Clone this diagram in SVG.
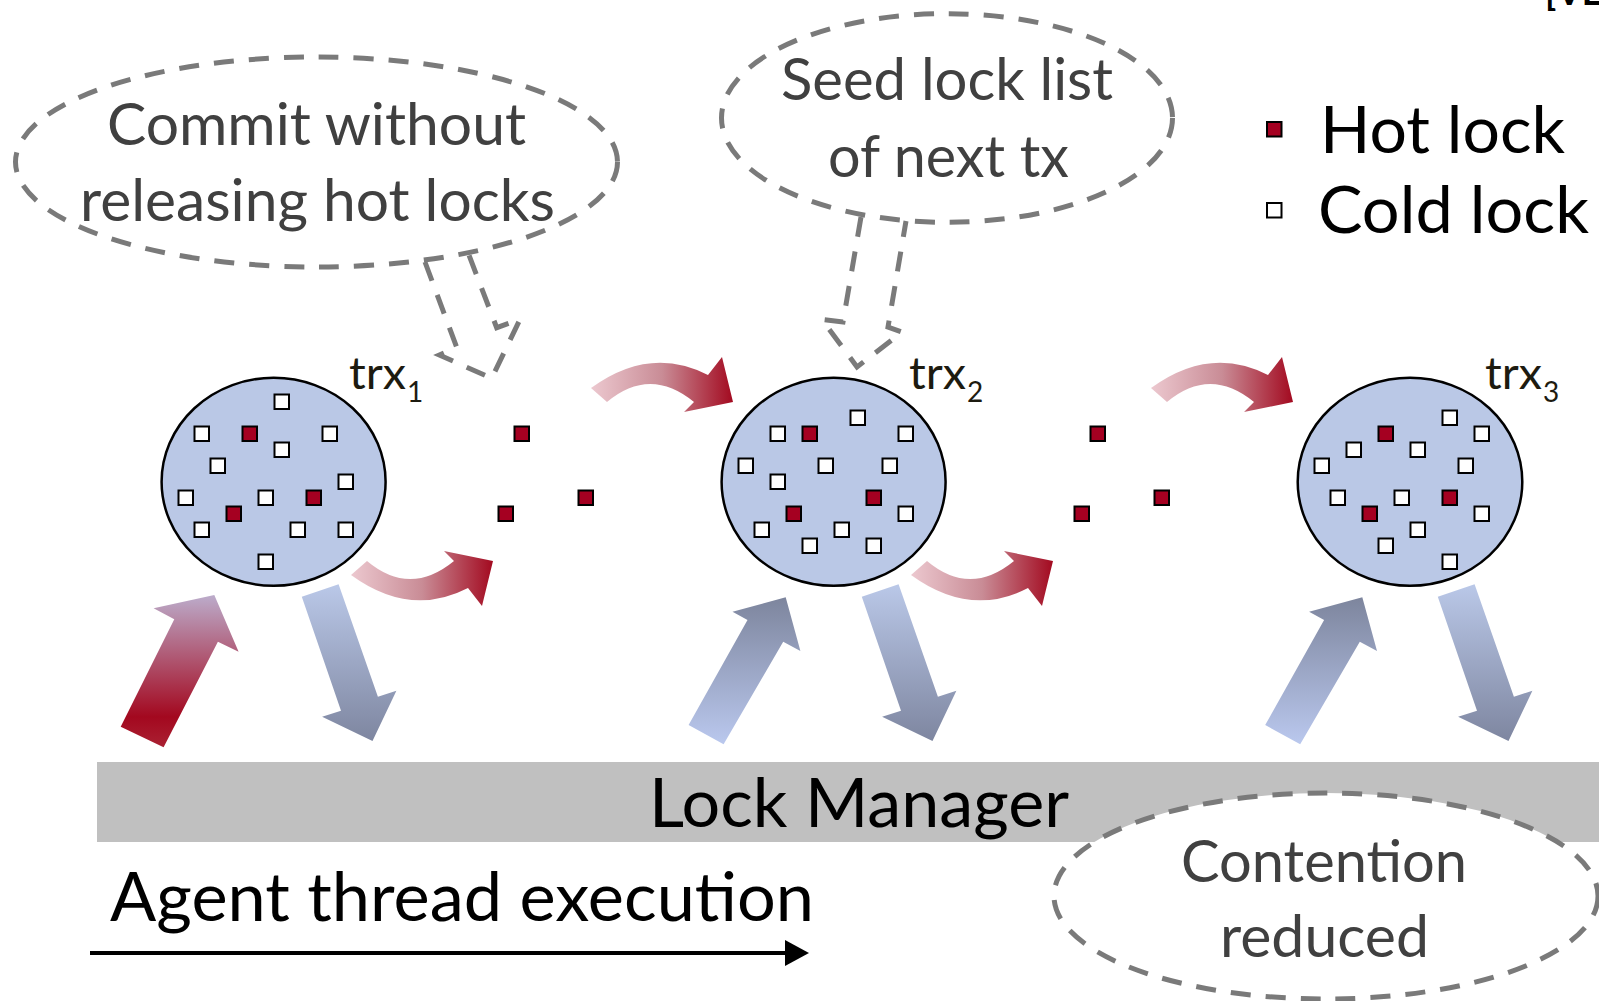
<svg xmlns="http://www.w3.org/2000/svg" width="1599" height="1001" viewBox="0 0 1599 1001">
<style>
  .t { font-family: Lato, "Open Sans", "Liberation Sans", sans-serif; }
  .call { fill: #404040; font-size: 58px; }
  .big { fill: #000; font-size: 68px; }
  .leg { fill: #000; font-size: 66px; }
  .trx { fill: #1d1b10; font-size: 44px; }
  .sub { fill: #1d1b10; font-size: 28px; }
  .dash { fill: none; stroke: #7a7a7a; stroke-width: 5; stroke-dasharray: 20 15; }
  .cell { fill: #bac8e6; stroke: #000; stroke-width: 2.5; }
  .c { fill: #fff; stroke: #000; stroke-width: 2; }
  .h { fill: #a50021; stroke: #000; stroke-width: 2; }
</style>
<defs>
  <linearGradient id="gArc" gradientUnits="userSpaceOnUse" x1="591" y1="0" x2="733" y2="0">
    <stop offset="0" stop-color="#ecc8cf"/>
    <stop offset="0.5" stop-color="#c98c96"/>
    <stop offset="1" stop-color="#a30a20"/>
  </linearGradient>
  <linearGradient id="gRed" x1="0" y1="0" x2="0" y2="1">
    <stop offset="0" stop-color="#bcaccb"/>
    <stop offset="0.8" stop-color="#a3081f"/>
    <stop offset="1" stop-color="#aa2132"/>
  </linearGradient>
  <linearGradient id="gDown" x1="0" y1="0" x2="0" y2="1">
    <stop offset="0" stop-color="#bac8e8"/>
    <stop offset="1" stop-color="#7e86a0"/>
  </linearGradient>
  <linearGradient id="gUp" x1="0" y1="1" x2="0" y2="0">
    <stop offset="0" stop-color="#bac8ee"/>
    <stop offset="1" stop-color="#7d859d"/>
  </linearGradient>
  <path id="arc" d="M591,388 Q650,345 708,375 L722,357 L733,402 L684,412 L694,402 Q650,366 607,402 Z" fill="url(#gArc)"/>
  <polygon id="downArrow" points="301.8,596.7 338.6,584.3 377.9,696.7 396.4,690.7 372.5,741 322.1,716.7 341,710.7" fill="url(#gDown)"/>
  <polygon id="upArrow" points="688.6,725 723.6,744.3 783.2,641.7 800.4,651 785.7,597.3 732.5,611.7 747.5,620" fill="url(#gUp)"/>
  <marker id="head" viewBox="0 0 24 26" refX="2" refY="13" markerWidth="24" markerHeight="26" markerUnits="userSpaceOnUse" orient="auto">
    <path d="M0,0 L24,13 L0,26 Z" fill="#000"/>
  </marker>
</defs>

<rect width="1599" height="1001" fill="#fff"/>

<text class="t" x="1545" y="5" font-size="36" font-weight="bold" fill="#000">[VL</text>

<g id="lock-manager">
  <rect x="97" y="762" width="1502" height="80" fill="#c0c0c0"/>
  <text class="t big" x="649" y="827" textLength="420" lengthAdjust="spacingAndGlyphs">Lock Manager</text>
</g>

<g id="connectors">
  <polygon points="120.7,726.7 163.6,747.3 217.9,641.7 238.6,651.7 214.3,595 153.6,608.3 174.3,619.3" fill="url(#gRed)"/>
  <use href="#downArrow"/>
  <use href="#upArrow"/>
  <use href="#downArrow" transform="translate(560,0)"/>
  <use href="#upArrow" transform="translate(576.6,0)"/>
  <use href="#downArrow" transform="translate(1136,0)"/>
  <use href="#arc"/>
  <use href="#arc" transform="translate(560,0)"/>
  <use href="#arc" transform="matrix(1,0,0,-1,-240,963)"/>
  <use href="#arc" transform="matrix(1,0,0,-1,320,963)"/>
  <polyline class="dash" points="425,262 456.7,347.3 439.3,355 491.7,378.3 520,319.3 496.7,327.7 468.3,253.3"/>
  <polyline class="dash" points="861,217 843,322 822,319.5 857,367 902,332 888,327 906,221"/>
  <line x1="90" y1="953" x2="787" y2="953" stroke="#000" stroke-width="4" marker-end="url(#head)"/>
</g>

<g id="callout-commit">
  <ellipse class="dash" cx="316.5" cy="162" rx="301" ry="105"/>
  <text class="t call" x="107" y="145" textLength="419" lengthAdjust="spacingAndGlyphs">Commit without</text>
  <text class="t call" x="80" y="221" textLength="475" lengthAdjust="spacingAndGlyphs">releasing hot locks</text>
</g>

<g id="callout-seed">
  <ellipse class="dash" cx="947" cy="118" rx="225.5" ry="104.3"/>
  <text class="t call" x="781" y="100" textLength="332" lengthAdjust="spacingAndGlyphs">Seed lock list</text>
  <text class="t call" x="828" y="176.5" textLength="241" lengthAdjust="spacingAndGlyphs">of next tx</text>
</g>

<g id="callout-contention">
  <ellipse class="dash" cx="1326" cy="896" rx="272" ry="103" style="fill:#fff"/>
  <text class="t call" x="1181" y="882" textLength="286" lengthAdjust="spacingAndGlyphs">Contention</text>
  <text class="t call" x="1220" y="957" textLength="209" lengthAdjust="spacingAndGlyphs">reduced</text>
</g>

<g id="legend">
  <rect class="h" x="1267" y="122" width="14.5" height="14.5"/>
  <text class="t leg" x="1320" y="153" textLength="245" lengthAdjust="spacingAndGlyphs">Hot lock</text>
  <rect class="c" x="1267" y="203" width="14.5" height="14.5"/>
  <text class="t leg" x="1318" y="233" textLength="271" lengthAdjust="spacingAndGlyphs">Cold lock</text>
</g>

<g id="trx1">
  <ellipse class="cell" cx="273.6" cy="481.8" rx="112" ry="104"/>
  <rect class="c" x="274.5" y="394.5" width="14.5" height="14.5"/>
  <rect class="c" x="194.5" y="426.5" width="14.5" height="14.5"/>
  <rect class="h" x="242.5" y="426.5" width="14.5" height="14.5"/>
  <rect class="c" x="322.5" y="426.5" width="14.5" height="14.5"/>
  <rect class="c" x="274.5" y="442.5" width="14.5" height="14.5"/>
  <rect class="c" x="210.5" y="458.5" width="14.5" height="14.5"/>
  <rect class="c" x="338.5" y="474.5" width="14.5" height="14.5"/>
  <rect class="c" x="178.5" y="490.5" width="14.5" height="14.5"/>
  <rect class="c" x="258.5" y="490.5" width="14.5" height="14.5"/>
  <rect class="h" x="306.5" y="490.5" width="14.5" height="14.5"/>
  <rect class="h" x="226.5" y="506.5" width="14.5" height="14.5"/>
  <rect class="c" x="194.5" y="522.5" width="14.5" height="14.5"/>
  <rect class="c" x="290.5" y="522.5" width="14.5" height="14.5"/>
  <rect class="c" x="338.5" y="522.5" width="14.5" height="14.5"/>
  <rect class="c" x="258.5" y="554.5" width="14.5" height="14.5"/>
  <text class="t trx" x="349" y="389" textLength="57" lengthAdjust="spacingAndGlyphs">trx</text>
  <text class="t sub" x="407" y="402">1</text>
</g>

<g id="hot-gap1">
  <rect class="h" x="514.5" y="426.5" width="14.5" height="14.5"/>
  <rect class="h" x="578.5" y="490.5" width="14.5" height="14.5"/>
  <rect class="h" x="498.5" y="506.5" width="14.5" height="14.5"/>
</g>

<g id="trx2">
  <ellipse class="cell" cx="833.6" cy="481.8" rx="112" ry="104"/>
  <rect class="c" x="850.5" y="410.5" width="14.5" height="14.5"/>
  <rect class="c" x="770.5" y="426.5" width="14.5" height="14.5"/>
  <rect class="h" x="802.5" y="426.5" width="14.5" height="14.5"/>
  <rect class="c" x="898.5" y="426.5" width="14.5" height="14.5"/>
  <rect class="c" x="738.5" y="458.5" width="14.5" height="14.5"/>
  <rect class="c" x="818.5" y="458.5" width="14.5" height="14.5"/>
  <rect class="c" x="882.5" y="458.5" width="14.5" height="14.5"/>
  <rect class="c" x="770.5" y="474.5" width="14.5" height="14.5"/>
  <rect class="h" x="866.5" y="490.5" width="14.5" height="14.5"/>
  <rect class="h" x="786.5" y="506.5" width="14.5" height="14.5"/>
  <rect class="c" x="898.5" y="506.5" width="14.5" height="14.5"/>
  <rect class="c" x="754.5" y="522.5" width="14.5" height="14.5"/>
  <rect class="c" x="834.5" y="522.5" width="14.5" height="14.5"/>
  <rect class="c" x="802.5" y="538.5" width="14.5" height="14.5"/>
  <rect class="c" x="866.5" y="538.5" width="14.5" height="14.5"/>
  <text class="t trx" x="909" y="389" textLength="57" lengthAdjust="spacingAndGlyphs">trx</text>
  <text class="t sub" x="967" y="402">2</text>
</g>

<g id="hot-gap2">
  <rect class="h" x="1090.5" y="426.5" width="14.5" height="14.5"/>
  <rect class="h" x="1154.5" y="490.5" width="14.5" height="14.5"/>
  <rect class="h" x="1074.5" y="506.5" width="14.5" height="14.5"/>
</g>

<g id="trx3">
  <ellipse class="cell" cx="1410" cy="481.8" rx="112.3" ry="104"/>
  <rect class="c" x="1442.5" y="410.5" width="14.5" height="14.5"/>
  <rect class="h" x="1378.5" y="426.5" width="14.5" height="14.5"/>
  <rect class="c" x="1474.5" y="426.5" width="14.5" height="14.5"/>
  <rect class="c" x="1346.5" y="442.5" width="14.5" height="14.5"/>
  <rect class="c" x="1410.5" y="442.5" width="14.5" height="14.5"/>
  <rect class="c" x="1314.5" y="458.5" width="14.5" height="14.5"/>
  <rect class="c" x="1458.5" y="458.5" width="14.5" height="14.5"/>
  <rect class="c" x="1330.5" y="490.5" width="14.5" height="14.5"/>
  <rect class="c" x="1394.5" y="490.5" width="14.5" height="14.5"/>
  <rect class="h" x="1442.5" y="490.5" width="14.5" height="14.5"/>
  <rect class="h" x="1362.5" y="506.5" width="14.5" height="14.5"/>
  <rect class="c" x="1474.5" y="506.5" width="14.5" height="14.5"/>
  <rect class="c" x="1410.5" y="522.5" width="14.5" height="14.5"/>
  <rect class="c" x="1378.5" y="538.5" width="14.5" height="14.5"/>
  <rect class="c" x="1442.5" y="554.5" width="14.5" height="14.5"/>
  <text class="t trx" x="1485" y="389" textLength="57" lengthAdjust="spacingAndGlyphs">trx</text>
  <text class="t sub" x="1543" y="402">3</text>
</g>

<g id="agent-label">
  <text class="t big" x="110" y="921" textLength="704" lengthAdjust="spacingAndGlyphs">Agent thread execution</text>
</g>
</svg>
